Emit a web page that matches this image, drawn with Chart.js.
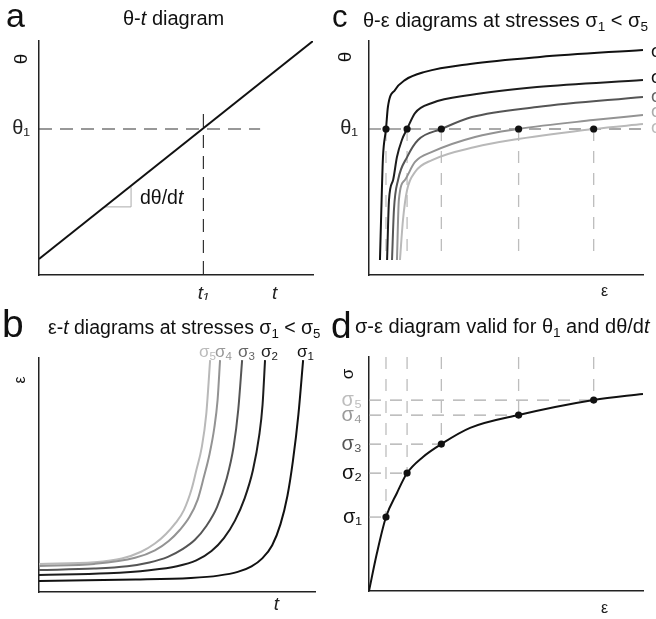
<!DOCTYPE html>
<html><head><meta charset="utf-8">
<script src="https://cdn.jsdelivr.net/npm/chart.js@4.4.1/dist/chart.umd.min.js"></script>
<style>
html,body{margin:0;padding:0;overflow:hidden;background:#fff;width:656px;height:619px;}
body{position:relative;font-family:"Liberation Sans",Arial,sans-serif;color:#111;}
canvas{position:absolute;}
.t{position:absolute;white-space:nowrap;line-height:1;}
.t sub{font-size:0.68em;line-height:0;vertical-align:-0.3em;}
.rot{transform:translate(-50%,-50%) rotate(-90deg);}
</style></head><body>
<canvas id="ca" width="328" height="300" style="left:0;top:0;width:328px;height:300px"></canvas>
<canvas id="cc" width="328" height="300" style="left:328px;top:0;width:328px;height:300px"></canvas>
<canvas id="cb" width="328" height="319" style="left:0;top:300px;width:328px;height:319px"></canvas>
<canvas id="cd" width="328" height="319" style="left:328px;top:300px;width:328px;height:319px"></canvas>

<div class="t" style="left:6px;top:-1.8px;font-size:34px">a</div>
<div class="t" style="left:332px;top:0.8px;font-size:31px">c</div>
<div class="t" style="left:2px;top:304px;font-size:39px">b</div>
<div class="t" style="left:331px;top:306.7px;font-size:37px">d</div>

<div class="t" style="left:123px;top:8.1px;font-size:20px">θ-<i>t</i> diagram</div>
<div class="t" style="left:363px;top:10.1px;font-size:20px">θ-ε diagrams at stresses σ<sub>1</sub> &lt; σ<sub>5</sub></div>
<div class="t" style="left:48px;top:318.1px;font-size:19.5px">ε-<i>t</i> diagrams at stresses σ<sub>1</sub> &lt; σ<sub>5</sub></div>
<div class="t" style="left:355px;top:316.1px;font-size:20px">σ-ε diagram valid for θ<sub>1</sub> and dθ/d<i>t</i></div>

<div class="t rot" style="left:20px;top:59px;font-size:19px">θ</div>
<div class="t rot" style="left:344px;top:57px;font-size:19px">θ</div>
<div class="t rot" style="left:20px;top:380px;font-size:16px">ε</div>
<div class="t rot" style="left:347px;top:374px;font-size:17px">σ</div>

<div class="t" style="left:140px;top:188px;font-size:19.5px">dθ/d<i>t</i></div>

<div class="t" style="left:199px;top:342.6px;font-size:17px;color:#bbb">σ<sub>5</sub></div>
<div class="t" style="left:215px;top:342.6px;font-size:17px;color:#999">σ<sub>4</sub></div>
<div class="t" style="left:238px;top:342.6px;font-size:17px;color:#666">σ<sub>3</sub></div>
<div class="t" style="left:261px;top:342.6px;font-size:17px;color:#222">σ<sub>2</sub></div>
<div class="t" style="left:297px;top:342.6px;font-size:17px;color:#111">σ<sub>1</sub></div>

<div class="t" style="left:651px;top:41.5px;font-size:18px;color:#111">σ<sub>1</sub></div>
<div class="t" style="left:651px;top:67.5px;font-size:18px;color:#111">σ<sub>2</sub></div>
<div class="t" style="left:651px;top:86.5px;font-size:18px;color:#666">σ<sub>3</sub></div>
<div class="t" style="left:651px;top:101.5px;font-size:18px;color:#aaa">σ<sub>4</sub></div>
<div class="t" style="left:651px;top:117.5px;font-size:18px;color:#bbb">σ<sub>5</sub></div>

<script>
// ---------------- DATA (arbitrary 0-100 units) ----------------
// shared
const theta1 = 62.4;                                   // θ1 level (panels a and c)
const epsAtTheta1 = [6.2, 13.9, 26.4, 54.6, 82.0];     // strain where σ1..σ5 curves reach θ1
const sigmaLevels = [31.6, 50.4, 62.8, 75.2, 81.6];    // σ1..σ5 (panel d)
const sigmaTickLabels = ['σ₁', 'σ₂', 'σ₃', 'σ₄', 'σ₅'];

// panel a: θ-t
const aTime = [0, 100];
const aTheta = [6.8, 100];
const aT1 = 60;
const aXTickValues = [60, 86];
const aXTickLabels = ['t₁', 't'];
const aYTickLabels = ['θ₁'];
const aTheta1DashEnd = 80.7;    // horizontal θ1 guide ends here (t)
const aT1DashTop = 68.8;        // vertical t1 guide starts here (θ)
const aSlopeT = [23.9, 33.6, 33.6];
const aSlopeTheta = [29.1, 29.1, 37.5];

// panel b: ε-t curves for σ1..σ5
const bT1 = [0, 35, 55, 65, 72, 77, 81, 84.5, 87.5, 90, 92, 94, 95.7];
const bE1 = [4.7, 5.3, 6.0, 7.0, 8.6, 11.0, 14.5, 20.0, 29.0, 41.0, 56.0, 76.0, 99.1];
const bT2 = [0, 25, 40, 50, 57, 62.5, 67, 71, 74.5, 77.5, 79.8, 81, 81.9];
const bE2 = [7.3, 8.0, 9.3, 11.0, 13.5, 17.5, 23.0, 30.5, 40.0, 52.0, 67.0, 80.0, 99.1];
const bT3 = [0, 20, 32, 40, 46.7, 52, 56.5, 60.5, 64.5, 68, 70.5, 72.2, 73.6];
const bE3 = [9.4, 10.0, 11.0, 12.6, 15.0, 18.3, 22.3, 28.0, 36.3, 48.5, 62.0, 78.0, 99.1];
const bT4 = [0, 20, 34.8, 42, 47, 51, 54.5, 57.5, 59.7, 61.8, 63.5, 64.7, 65.6];
const bE4 = [11.1, 12.0, 14.6, 17.8, 21.8, 26.5, 32.0, 39.5, 49.0, 59.0, 70.0, 82.0, 99.1];
const bT5 = [0, 20, 30, 37, 42, 46, 49.5, 52.5, 55.3, 57, 59, 60.6, 62];
const bE5 = [12.0, 12.7, 14.3, 17.2, 20.7, 24.8, 29.5, 35.0, 44.0, 52.0, 62.0, 76.0, 99.1];
const bXTickValues = [86];
const bXTickLabels = ['t'];

// panel c: θ-ε curves for σ1..σ5
const cE1 = [4.0, 4.7, 5.1, 6.2, 6.9, 9.5, 13.1, 20.4, 36.9, 62.4, 100];
const cTh1 = [6.4, 36.3, 50.4, 62.4, 71.8, 79.1, 83.3, 86.8, 90.2, 93.2, 96.2];
const cE2 = [6.6, 7.3, 8.8, 10.2, 12.0, 13.9, 16.8, 23.0, 36.9, 61.3, 100];
const cTh2 = [6.4, 32.1, 40.6, 50.4, 57.7, 62.4, 69.2, 73.5, 76.9, 80.3, 83.3];
const cE3 = [8.4, 9.1, 10.6, 13.9, 17.9, 26.4, 37.6, 61.3, 100];
const cTh3 = [6.4, 27.8, 40.6, 50.4, 57.7, 62.4, 67.5, 71.8, 76.1];
const cE4 = [10.2, 10.9, 13.1, 16.8, 23.0, 38.7, 54.6, 81.8, 100];
const cTh4 = [6.4, 32.1, 40.6, 48.3, 52.6, 59.0, 62.4, 66.2, 68.4];
const cE5 = [11.3, 12.4, 13.9, 16.8, 23.0, 38.7, 54.4, 82.0, 100];
const cTh5 = [6.4, 23.5, 36.3, 44.0, 49.1, 54.7, 58.1, 62.4, 64.5];
const cDashBottom = 6.0;
const cXTickValues = [86];
const cXTickLabels = ['ε'];
const cYTickLabels = ['θ₁'];

// panel d: σ-ε curve
const dEps = [0, 2.9, 6.2, 10.2, 13.9, 19.7, 26.4, 36.9, 54.6, 82.0, 100];
const dSigma = [0, 16.2, 31.6, 41.9, 50.4, 57.3, 62.8, 69.7, 75.2, 81.6, 84.2];
const dDashTop = 100;
const dXTickValues = [86];
const dXTickLabels = ['ε'];

// ---------------- helpers ----------------
const FONT = '"Liberation Sans", Arial, sans-serif';
const pts = (xs, ys) => xs.map((x, i) => ({x: x, y: ys[i]}));

function lineDs(data, color, width, dash, order) {
  return {data, showLine: true, borderColor: color, borderWidth: width, borderDash: dash || [],
    pointRadius: 0, pointHoverRadius: 0, tension: 0, fill: false, order};
}
function curveDs(data, color, width, order) {
  return {data, showLine: true, borderColor: color, borderWidth: width, pointRadius: 0,
    pointHoverRadius: 0, cubicInterpolationMode: 'monotone', fill: false, order};
}
function dotDs(data, order) {
  return {data, showLine: false, pointRadius: 3.6, pointBackgroundColor: '#111',
    pointBorderColor: '#111', pointBorderWidth: 0, order};
}
function axis(o) {
  const hasTicks = !!(o.vals && o.vals.length);
  const a = {
    type: 'linear', min: 0, max: 100, position: o.pos,
    grid: {display: false, drawTicks: false},
    border: {display: true, color: '#222', width: 1.5},
    afterFit: s => { if (o.pos === 'left') s.width = o.size; else s.height = o.size; },
    ticks: {
      display: hasTicks, autoSkip: false, maxRotation: 0, minRotation: 0, padding: o.pad || 0,
      font: {family: FONT, size: o.fs || 18, style: o.style || 'normal'},
      color: o.colors ? (c => o.colors[c.index] || '#222') : '#222',
      callback: (v, i) => hasTicks ? o.labels[i] : ''
    }
  };
  if (hasTicks) a.afterBuildTicks = s => { s.ticks = o.vals.map(v => ({value: v})); };
  return a;
}
function make(id, datasets, padding, xAxis, yAxis) {
  return new Chart(document.getElementById(id), {
    type: 'scatter',
    data: {datasets},
    options: {
      responsive: false, animation: false, devicePixelRatio: 1, events: [],
      layout: {padding},
      plugins: {legend: {display: false}, tooltip: {enabled: false}, title: {display: false}},
      scales: {x: xAxis, y: yAxis}
    }
  });
}
const sigColors = ['#111', '#1c1c1c', '#555', '#939393', '#b9b9b9'];

// ---------------- panel a ----------------
make('ca', [
  lineDs(pts(aTime, aTheta), '#111', 2, [], 1),
  lineDs([{x: 0, y: theta1}, {x: aTheta1DashEnd, y: theta1}], '#333', 1.2, [13, 8], 3),
  lineDs([{x: aT1, y: aT1DashTop}, {x: aT1, y: 0}], '#333', 1.2, [13, 8], 3),
  lineDs(pts(aSlopeT, aSlopeTheta), '#aaa', 1, [], 4)
], {left: 0, top: 41, right: 15, bottom: 0},
  axis({pos: 'bottom', size: 25, vals: aXTickValues, labels: aXTickLabels, pad: 7, fs: 19, style: 'italic'}),
  axis({pos: 'left', size: 39, vals: [theta1], labels: aYTickLabels, pad: 9, fs: 20})
);

// ---------------- panel c ----------------
const cCurves = [pts(cE1, cTh1), pts(cE2, cTh2), pts(cE3, cTh3), pts(cE4, cTh4), pts(cE5, cTh5)];
const cSets = [dotDs(epsAtTheta1.map(e => ({x: e, y: theta1})), 0)];
cCurves.forEach((c, i) => cSets.push(curveDs(c, sigColors[i], 2, 1 + i * 0.1)));
cSets.push(lineDs([{x: 0, y: theta1}, {x: 100, y: theta1}], '#555', 1.2, [12, 8], 3));
epsAtTheta1.forEach(e => cSets.push(lineDs([{x: e, y: theta1}, {x: e, y: cDashBottom}], '#bdbdbd', 1.3, [12, 10], 4)));
make('cc', cSets, {left: 0, top: 41, right: 13, bottom: 0},
  axis({pos: 'bottom', size: 25, vals: cXTickValues, labels: cXTickLabels, pad: 7, fs: 16}),
  axis({pos: 'left', size: 41, vals: [theta1], labels: cYTickLabels, pad: 11, fs: 20})
);

// ---------------- panel b ----------------
const bCurves = [pts(bT1, bE1), pts(bT2, bE2), pts(bT3, bE3), pts(bT4, bE4), pts(bT5, bE5)];
make('cb', bCurves.map((c, i) => curveDs(c, sigColors[i], 2, 1 + i * 0.1)),
  {left: 0, top: 58, right: 13, bottom: 0},
  axis({pos: 'bottom', size: 27, vals: bXTickValues, labels: bXTickLabels, pad: 1, fs: 19, style: 'italic'}),
  axis({pos: 'left', size: 39})
);

// ---------------- panel d ----------------
const dSets = [dotDs(pts(epsAtTheta1, sigmaLevels), 0), curveDs(pts(dEps, dSigma), '#111', 2, 1)];
epsAtTheta1.forEach((e, i) => {
  dSets.push(lineDs([{x: 0, y: sigmaLevels[i]}, {x: e, y: sigmaLevels[i]}], '#aaa', 1.2, [12, 9], 3));
  dSets.push(lineDs([{x: e, y: dDashTop}, {x: e, y: sigmaLevels[i]}], '#bdbdbd', 1.3, [12, 10], 4));
});
make('cd', dSets, {left: 0, top: 57, right: 13, bottom: 0},
  axis({pos: 'bottom', size: 28, vals: dXTickValues, labels: dXTickLabels, pad: 8, fs: 16}),
  axis({pos: 'left', size: 41, vals: sigmaLevels, labels: sigmaTickLabels, pad: 7, fs: 20,
        colors: ['#111', '#111', '#555', '#9a9a9a', '#bdbdbd']})
);
</script>
</body></html>
